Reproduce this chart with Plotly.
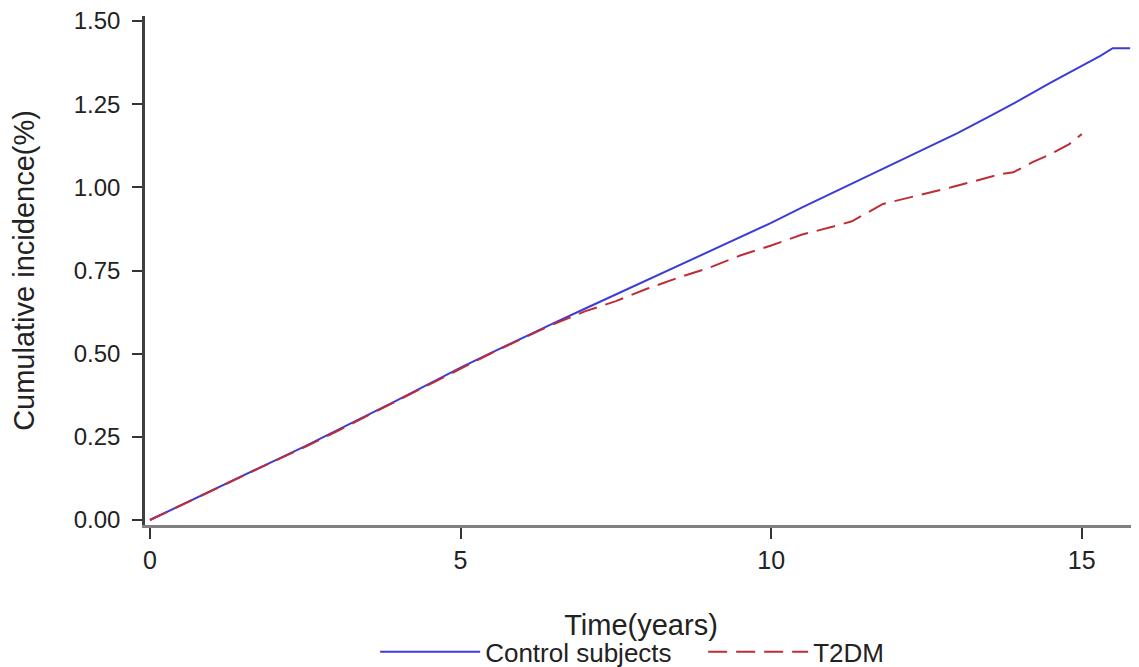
import plotly.graph_objects as go

# Data
control_t = [0.0, 0.5, 1.0, 1.5, 2.0, 2.5, 3.0, 3.5, 4.0, 4.5, 5.0, 5.5, 6.0, 6.5, 7.0,
             7.5, 8.0, 8.5, 9.0, 9.5, 10.0, 10.5, 11.0, 11.5, 12.0, 12.5, 13.0, 13.5,
             14.0, 14.5, 15.0, 15.3, 15.5, 15.78]
control_v = [0.000, 0.045, 0.090, 0.134, 0.178, 0.222, 0.268, 0.315, 0.362, 0.410, 0.458,
             0.503, 0.548, 0.592, 0.635, 0.678, 0.720, 0.762, 0.805, 0.848, 0.893, 0.940,
             0.985, 1.030, 1.075, 1.118, 1.163, 1.212, 1.262, 1.315, 1.366, 1.395, 1.418, 1.418]

t2dm_t = [0.0, 0.5, 1.0, 1.5, 2.0, 2.5, 3.0, 3.5, 4.0, 4.5, 5.0, 5.5, 6.0, 6.5, 7.0,
          7.5, 8.0, 8.5, 9.0, 9.5, 10.0, 10.5, 11.0, 11.3, 11.8, 12.3, 12.9, 13.3,
          13.7, 13.9, 14.2, 14.5, 14.8, 15.0]
t2dm_v = [0.000, 0.045, 0.089, 0.133, 0.177, 0.220, 0.266, 0.313, 0.360, 0.408, 0.456,
          0.502, 0.546, 0.589, 0.627, 0.658, 0.695, 0.728, 0.758, 0.795, 0.825, 0.858,
          0.882, 0.898, 0.950, 0.972, 1.000, 1.020, 1.040, 1.045, 1.075, 1.100, 1.130, 1.160]

x_ticks = [0, 5, 10, 15]
y_ticks = [0.0, 0.25, 0.5, 0.75, 1.0, 1.25, 1.5]

FONT = "Liberation Sans, Arial, sans-serif"

fig = go.Figure()
fig.add_trace(go.Scatter(x=control_t, y=control_v, mode="lines", name="Control subjects",
                         line=dict(color="rgb(60,60,215)", width=2)))
fig.add_trace(go.Scatter(x=t2dm_t, y=t2dm_v, mode="lines", name="T2DM",
                         line=dict(color="rgb(190,45,55)", width=2, dash="19px,9px")))

# page body has an 8px margin, so the figure is 8px smaller and offset
fig.update_layout(
    width=1131, height=659,
    margin=dict(l=137, r=2, t=8, b=142, autoexpand=False),
    paper_bgcolor="white", plot_bgcolor="white",
    font=dict(family=FONT, color="#222", size=24),
    showlegend=True,
    legend=dict(orientation="h", x=0.232, xanchor="left", y=-0.249, yanchor="middle",
                font=dict(size=26), itemwidth=100, bgcolor="rgba(0,0,0,0)",
                entrywidth=213, entrywidthmode="pixels"),
    xaxis=dict(range=[-0.08, 15.89], tickvals=x_ticks, ticktext=[str(v) for v in x_ticks],
               showgrid=False, zeroline=False, showline=True, linecolor="#808080", linewidth=3,
               ticks="outside", ticklen=11, tickwidth=2, tickcolor="#333",
               tickfont=dict(size=25), automargin=False, ticklabeloverflow="allow",
               title=dict(text="Time(years)", font=dict(size=29), standoff=42)),
    yaxis=dict(range=[-0.015, 1.515], tickvals=y_ticks, tickformat=".2f",
               showgrid=False, zeroline=False, showline=True, linecolor="#404040", linewidth=2.5,
               ticks="outside", ticklen=10, tickwidth=2, tickcolor="#333",
               tickfont=dict(size=24), automargin=False, ticklabelstandoff=7,
               ticklabeloverflow="allow",
               title=dict(text="Cumulative incidence(%)", font=dict(size=29), standoff=34)),
)

fig.write_html("out.html")
